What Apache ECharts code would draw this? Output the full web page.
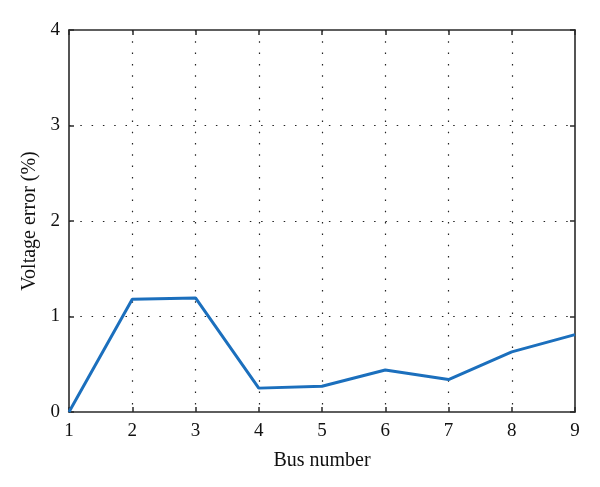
<!DOCTYPE html>
<html>
<head>
<meta charset="utf-8">
<script src="https://cdn.jsdelivr.net/npm/echarts@6/dist/echarts.min.js"></script>
<style>html,body{margin:0;padding:0;background:#fff}#c{width:600px;height:487px}</style>
</head>
<body>
<div id="c"></div>
<script>
var busNumbers = [1, 2, 3, 4, 5, 6, 7, 8, 9];
var voltageError = [0.0, 1.18, 1.195, 0.25, 0.27, 0.44, 0.34, 0.63, 0.81];
var xTicks = [1, 2, 3, 4, 5, 6, 7, 8, 9];
var yTicks = [0, 1, 2, 3, 4];
var xTitle = 'Bus number';
var yTitle = 'Voltage error (%)';

var font = 'Liberation Serif';
var axisColor = '#2a2a2a';
var chart = echarts.init(document.getElementById('c'), null, {renderer: 'canvas'});
var dotted = {show: true, showMinLine: false, showMaxLine: false,
  lineStyle: {color: '#222', width: 1.2, type: [1.5, 9.8]}};
var common = {
  axisLine: {show: true, onZero: false, lineStyle: {color: axisColor, width: 1.6}},
  axisTick: {show: true, inside: true, length: 5, lineStyle: {color: axisColor, width: 1.5}}
};
chart.setOption({
  animation: false,
  backgroundColor: '#fff',
  grid: {left: 69, right: 25, top: 30, bottom: 75, containLabel: false},
  xAxis: [
    Object.assign({
      type: 'value', min: 1, max: 9, interval: 1, position: 'bottom',
      name: xTitle, nameLocation: 'middle', nameGap: 39,
      nameTextStyle: {fontFamily: font, fontSize: 20, color: '#111'},
      axisLabel: {fontFamily: font, fontSize: 19, color: '#111', margin: 10,
        formatter: function (v) { return xTicks.indexOf(v) >= 0 ? String(v) : ''; }},
      splitLine: dotted
    }, common),
    Object.assign({
      type: 'value', min: 1, max: 9, interval: 1, position: 'top',
      axisLabel: {show: false}, splitLine: {show: false}
    }, common)
  ],
  yAxis: [
    Object.assign({
      type: 'value', min: 0, max: 4, interval: 1, position: 'left',
      name: yTitle, nameLocation: 'middle', nameGap: 29,
      nameTextStyle: {fontFamily: font, fontSize: 20, color: '#111'},
      axisLabel: {fontFamily: font, fontSize: 19, color: '#111', margin: 9,
        formatter: function (v) { return yTicks.indexOf(v) >= 0 ? String(v) : ''; }},
      splitLine: dotted
    }, common),
    Object.assign({
      type: 'value', min: 0, max: 4, interval: 1, position: 'right',
      axisLabel: {show: false}, splitLine: {show: false}
    }, common)
  ],
  series: [{
    type: 'line',
    xAxisIndex: 0, yAxisIndex: 0,
    data: busNumbers.map(function (b, i) { return [b, voltageError[i]]; }),
    showSymbol: false,
    lineStyle: {color: '#1b6fbd', width: 3},
    z: 5
  }]
});
</script>
</body>
</html>
